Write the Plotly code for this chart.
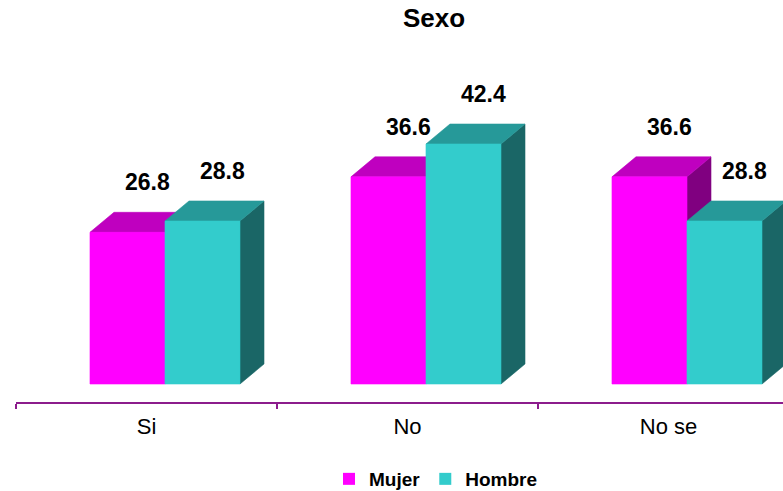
import plotly.graph_objects as go

# Survey answers by sex (percent)
categories = ["Si", "No", "No se"]
mujer = [26.8, 36.6, 36.6]
hombre = [28.8, 42.4, 28.8]

# Canvas and plot-area geometry (pixels)
W, H = 783, 491
M_L, M_R, M_T, M_B = 16, 0, 40, 89
PX_PER_CAT = 261.0      # width of one category slot
PX_PER_UNIT = 5.66      # vertical pixels per percentage point
DEPTH_PX = (24.0, 20.0)  # oblique depth of each column (right, up)
FLOOR_PX = 18.0         # columns stand this far behind the axis line

plot_w = W - M_L - M_R
plot_h = H - M_T - M_B
y_floor = FLOOR_PX / PX_PER_UNIT
x_range = [-0.5, -0.5 + plot_w / PX_PER_CAT]
y_range = [-y_floor, -y_floor + plot_h / PX_PER_UNIT]

ddx = DEPTH_PX[0] / PX_PER_CAT
ddy = DEPTH_PX[1] / PX_PER_UNIT
bar_w = 75.0 / PX_PER_CAT
group_left = -0.2165

FONT = "Liberation Sans, Arial, sans-serif"
AXIS_COLOR = "#8C1C8C"

series = [
    dict(name="Mujer", values=mujer, front="#FF00FF", top="#BF00BF", side="#800080"),
    dict(name="Hombre", values=hombre, front="#33CCCC", top="#269999", side="#1A6666"),
]

fig = go.Figure()

# Flat columns: the data marks and legend entries
for k, s in enumerate(series):
    left = group_left + k * bar_w
    fig.add_trace(go.Bar(
        x=[i + left + bar_w / 2 for i in range(len(categories))],
        y=s["values"],
        width=bar_w,
        name=s["name"],
        marker=dict(color=s["front"], line=dict(width=0)),
        hoverinfo="skip",
    ))


def poly_trace(xs, ys, color):
    return go.Scatter(
        x=xs, y=ys, mode="lines", fill="toself", fillcolor=color,
        line=dict(width=0.6, color=color), showlegend=False, hoverinfo="skip",
    )


# Oblique 3D faces, painted left to right so nearer faces cover farther ones
for k, s in enumerate(series):
    left = group_left + k * bar_w
    side_x, side_y, top_x, top_y, front_x, front_y = [], [], [], [], [], []
    for i, v in enumerate(s["values"]):
        x0 = i + left
        x1 = x0 + bar_w
        side_x += [x1, x1 + ddx, x1 + ddx, x1, x1, None]
        side_y += [0, ddy, v + ddy, v, 0, None]
        top_x += [x0, x1, x1 + ddx, x0 + ddx, x0, None]
        top_y += [v, v, v + ddy, v + ddy, v, None]
        front_x += [x0, x1, x1, x0, x0, None]
        front_y += [0, 0, v, v, 0, None]
    fig.add_trace(poly_trace(side_x, side_y, s["side"]))
    fig.add_trace(poly_trace(top_x, top_y, s["top"]))
    fig.add_trace(poly_trace(front_x, front_y, s["front"]))

# Value labels above each column
for k, s in enumerate(series):
    left = group_left + k * bar_w
    for i, v in enumerate(s["values"]):
        fig.add_annotation(
            x=i + left + bar_w / 2, y=v, text=f"{v:.1f}",
            showarrow=False, xshift=20, yshift=50,
            font=dict(family=FONT, size=23, color="#000000", weight="bold"),
        )

fig.update_layout(
    width=W, height=H,
    margin=dict(l=M_L, r=M_R, t=M_T, b=M_B),
    paper_bgcolor="white", plot_bgcolor="white",
    barmode="overlay",
    title=dict(
        text="<b>Sexo</b>", x=434 / W, y=1 - 18 / H,
        xref="container", yref="container", xanchor="center", yanchor="middle",
        font=dict(family=FONT, size=26, color="#000000"),
    ),
    legend=dict(
        orientation="h", xref="container", yref="container",
        x=436 / W, y=1 - 479 / H, xanchor="center", yanchor="middle",
        font=dict(family=FONT, size=19, color="#000000", weight="bold"),
        bgcolor="rgba(0,0,0,0)",
    ),
    xaxis=dict(
        range=x_range, showgrid=False, zeroline=False,
        showline=True, linecolor=AXIS_COLOR, linewidth=2,
        tickmode="array", tickvals=list(range(len(categories))), ticktext=categories,
        ticks="", ticklabelstandoff=4,
        tickfont=dict(family=FONT, size=22, color="#000000"),
        minor=dict(tickmode="array",
                   tickvals=[i - 0.5 for i in range(len(categories) + 1)],
                   ticks="outside", ticklen=5, tickwidth=2, tickcolor=AXIS_COLOR),
        fixedrange=True,
    ),
    yaxis=dict(range=y_range, visible=False, showgrid=False, zeroline=False,
               fixedrange=True),
)

fig.write_html("out.html")
